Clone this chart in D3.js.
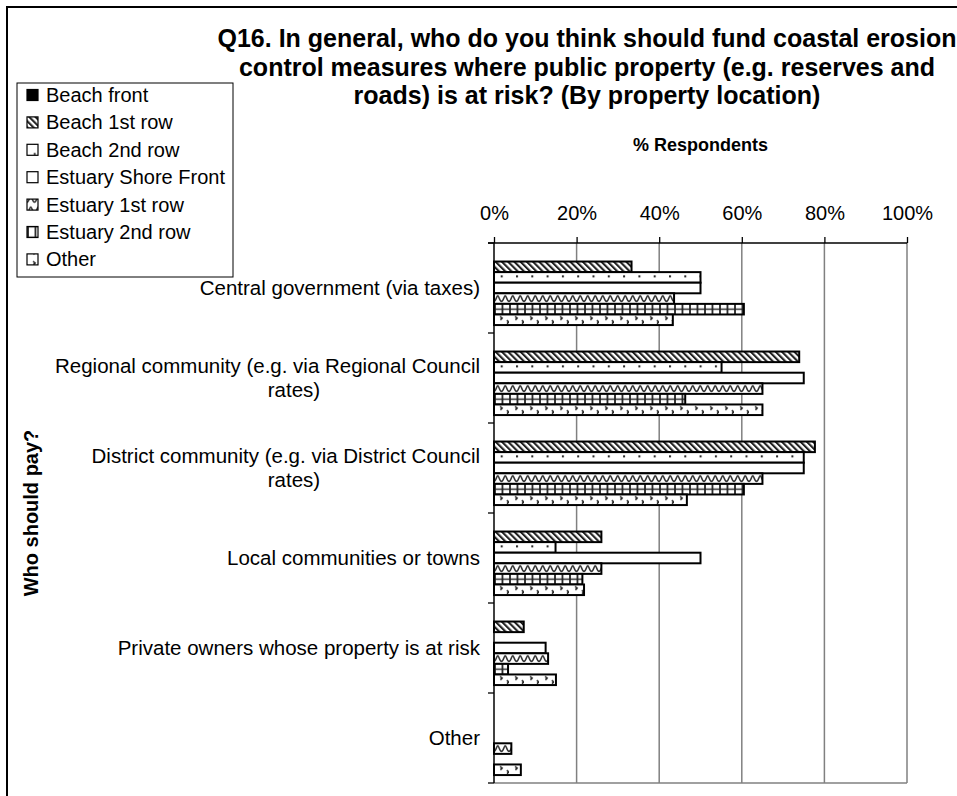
<!DOCTYPE html>
<html><head><meta charset="utf-8">
<script src="https://cdn.jsdelivr.net/npm/d3@7"></script>
<style>
html,body{margin:0;padding:0;background:#fff;}
svg{display:block;font-family:"Liberation Sans",Arial,sans-serif;}
</style></head><body>
<svg id="chart" width="957" height="796"></svg>
<script>
// Who should pay for coastal erosion control, by property location (% respondents)
const categories = [
  "Central government (via taxes)",
  "Regional community (e.g. via Regional Council\nrates)",
  "District community (e.g. via District Council\nrates)",
  "Local communities or towns",
  "Private owners whose property is at risk",
  "Other"
];
const seriesNames = ["Beach front", "Beach 1st row", "Beach 2nd row", "Estuary Shore Front",
  "Estuary 1st row", "Estuary 2nd row", "Other"];
const beachFront        = [0, 0, 0, 0, 0, 0];
const beach1stRow       = [33.3, 73.9, 77.7, 26.0, 7.2, 0];
const beach2ndRow       = [50.0, 55.1, 75.0, 14.9, 0, 0];
const estuaryShoreFront = [50.0, 75.0, 75.0, 50.0, 12.5, 0];
const estuary1stRow     = [43.6, 65.0, 65.0, 26.0, 13.1, 4.2];
const estuary2ndRow     = [60.5, 46.3, 60.5, 21.4, 3.4, 0];
const otherLocation     = [43.3, 65.0, 46.7, 21.8, 15.0, 6.5];
const tickValues = [0, 20, 40, 60, 80, 100];
const titleLines = [
  "Q16. In general, who do you think should fund coastal erosion",
  "control measures where public property (e.g. reserves and",
  "roads) is at risk? (By property location)"
];
const valueAxisTitle = "% Respondents";
const categoryAxisTitle = "Who should pay?";

const seriesValues = [beachFront, beach1stRow, beach2ndRow, estuaryShoreFront,
  estuary1stRow, estuary2ndRow, otherLocation];
const rows = categories.map((c, i) => ({
  category: c,
  values: seriesNames.map((s, j) => ({ series: s, idx: j, value: seriesValues[j][i] }))
}));

const svg = d3.select("#chart");
const plot = { left: 494, right: 907, top: 243, bottom: 783 };

const x = d3.scaleLinear().domain([0, 100]).range([plot.left, plot.right]);
const y = d3.scaleBand().domain(categories).range([plot.top, plot.bottom]);
const ySeries = d3.scaleBand().domain(seriesNames).range([0, y.bandwidth()])
  .paddingInner(0).paddingOuter(0.75);
const bh = ySeries.bandwidth();

// ---- fill patterns ----
const defs = svg.append("defs");
const patId = i => "pat" + i;

// diagonal hatch
defs.append("pattern").attr("id", patId(1)).attr("patternUnits", "userSpaceOnUse")
  .attr("width", 4.4).attr("height", 10).attr("patternTransform", "rotate(-45)")
  .call(p => {
    p.append("rect").attr("width", 4.4).attr("height", 10).attr("fill", "#fff");
    p.append("rect").attr("width", 2.1).attr("height", 10).attr("fill", "#222");
  });
// sparse dots
defs.append("pattern").attr("id", patId(2)).attr("patternUnits", "userSpaceOnUse")
  .attr("width", 15.3).attr("height", bh)
  .call(p => {
    p.append("rect").attr("width", 15.3).attr("height", bh).attr("fill", "#fff");
    p.append("rect").attr("x", 6.7).attr("y", bh * 0.4 - 1).attr("width", 2).attr("height", 2)
      .attr("fill", "#222");
  });
// plain
defs.append("pattern").attr("id", patId(3)).attr("patternUnits", "userSpaceOnUse")
  .attr("width", 10).attr("height", 10)
  .call(p => p.append("rect").attr("width", 10).attr("height", 10).attr("fill", "#fff"));
// wave
defs.append("pattern").attr("id", patId(4)).attr("patternUnits", "userSpaceOnUse")
  .attr("width", 15).attr("height", bh)
  .call(p => {
    p.append("rect").attr("width", 15).attr("height", bh).attr("fill", "#fff");
    p.append("path").attr("d", "M0,8 C2,8 2.5,2.5 3.75,2.5 C5,2.5 5.5,8 7.5,8 C9.5,8 10,2.5 11.25,2.5 C12.5,2.5 13,8 15,8")
      .attr("fill", "none").attr("stroke", "#333").attr("stroke-width", 1.6);
  });
// small grid
defs.append("pattern").attr("id", patId(5)).attr("patternUnits", "userSpaceOnUse")
  .attr("width", 7.5).attr("height", bh)
  .call(p => {
    p.append("rect").attr("width", 7.5).attr("height", bh).attr("fill", "#fff");
    p.append("line").attr("x1", 1).attr("x2", 1).attr("y1", 0).attr("y2", bh)
      .attr("stroke", "#222").attr("stroke-width", 1.8);
    p.append("line").attr("x1", 0).attr("x2", 7.5).attr("y1", bh / 2).attr("y2", bh / 2)
      .attr("stroke", "#222").attr("stroke-width", 1.4);
  });
// chevron marks
defs.append("pattern").attr("id", patId(6)).attr("patternUnits", "userSpaceOnUse")
  .attr("width", 15).attr("height", bh)
  .call(p => {
    p.append("rect").attr("width", 15).attr("height", bh).attr("fill", "#fff");
    p.append("path").attr("d", "M6,2 L8.2,3.6 L6.4,5.4 M12.8,6 L14.8,7.6 L13,9.2")
      .attr("fill", "none").attr("stroke", "#222").attr("stroke-width", 1.5);
  });
const fillFor = i => i === 0 ? "#000" : `url(#${patId(i)})`;

// ---- outer frame ----
svg.append("rect").attr("x", 7).attr("y", 7).attr("width", 1000).attr("height", 1000)
  .attr("fill", "none").attr("stroke", "#000").attr("stroke-width", 2);

// ---- title ----
svg.append("text").attr("text-anchor", "middle")
  .attr("font-size", 25).attr("font-weight", "bold").attr("fill", "#000")
  .selectAll("tspan").data(titleLines).join("tspan")
  .attr("x", 587).attr("y", (d, i) => 47 + i * 28.5).text(d => d);

// ---- gridlines ----
svg.append("g").selectAll("line").data(tickValues.filter(t => t > 0)).join("line")
  .attr("x1", d => x(d)).attr("x2", d => x(d))
  .attr("y1", plot.top).attr("y2", plot.bottom)
  .attr("stroke", "#808080").attr("stroke-width", 1.5);
svg.append("line").attr("x1", plot.left).attr("x2", plot.right)
  .attr("y1", plot.bottom).attr("y2", plot.bottom)
  .attr("stroke", "#808080").attr("stroke-width", 1.5);

// ---- bars ----
const groups = svg.append("g").selectAll("g").data(rows).join("g")
  .attr("transform", d => `translate(0,${y(d.category)})`);
groups.selectAll("g").data(d => d.values.filter(v => v.value > 0)).join("g")
  .attr("transform", d => `translate(${x(0)},${ySeries(d.series)})`)
  .append("rect")
  .attr("width", d => x(d.value) - x(0)).attr("height", bh)
  .attr("fill", d => fillFor(d.idx))
  .attr("stroke", "#000").attr("stroke-width", 2);

// ---- value axis (top) ----
const xAxis = svg.append("g").attr("transform", `translate(0,${plot.top})`)
  .call(d3.axisTop(x).tickValues(tickValues).tickFormat(d => d + "%").tickSize(6).tickSizeOuter(0));
xAxis.select(".domain").attr("stroke", "#000").attr("stroke-width", 1.5)
  .attr("d", `M${plot.left - 6},0H${plot.right}`);
xAxis.selectAll(".tick line").attr("stroke", "#000").attr("stroke-width", 1.3);
xAxis.selectAll(".tick text").attr("y", -23).attr("font-size", 20)
  .attr("font-family", "Liberation Sans, Arial, sans-serif").attr("fill", "#000");

// ---- category axis (left) ----
const cat = svg.append("g");
cat.append("line").attr("x1", plot.left).attr("x2", plot.left)
  .attr("y1", plot.top).attr("y2", plot.bottom).attr("stroke", "#000").attr("stroke-width", 1.5);
const bounds = categories.map(c => y(c)).concat([plot.bottom]);
cat.selectAll("line.tk").data(bounds).join("line").attr("class", "tk")
  .attr("x1", plot.left - 6).attr("x2", plot.left).attr("y1", d => d).attr("y2", d => d)
  .attr("stroke", "#000").attr("stroke-width", 1.3);

const labels = cat.selectAll("text.cat").data(categories).join("text").attr("class", "cat")
  .attr("font-size", 20.5).attr("fill", "#000");
labels.each(function (c) {
  const lines = c.split("\n");
  const cy = y(c) + y.bandwidth() / 2;
  const lh = 24;
  const y0 = cy - (lines.length - 1) * lh / 2 + 7;
  const t = d3.select(this);
  lines.forEach((ln, i) => {
    t.append("tspan")
      .attr("x", i === 0 ? 480 : 294)
      .attr("text-anchor", i === 0 ? "end" : "middle")
      .attr("y", y0 + i * lh).text(ln);
  });
});

// ---- axis titles ----
svg.append("text").attr("x", (plot.left + plot.right) / 2).attr("y", 151)
  .attr("text-anchor", "middle").attr("font-size", 18).attr("font-weight", "bold")
  .text(valueAxisTitle);
svg.append("text").attr("transform", `translate(38,${(plot.top + plot.bottom) / 2}) rotate(-90)`)
  .attr("text-anchor", "middle").attr("font-size", 20).attr("font-weight", "bold")
  .text(categoryAxisTitle);

// ---- legend ----
const legend = svg.append("g");
legend.append("rect").attr("x", 17).attr("y", 83).attr("width", 216).attr("height", 194)
  .attr("fill", "#fff").attr("stroke", "#000").attr("stroke-width", 1);
const items = legend.selectAll("g.item").data(seriesNames).join("g").attr("class", "item")
  .attr("transform", (d, i) => `translate(27,${95 + i * 27.4})`);
items.append("rect").attr("x", 0).attr("y", -5.5).attr("width", 11).attr("height", 11)
  .attr("fill", (d, i) => fillFor(i)).attr("stroke", "#000").attr("stroke-width", 1.2);
items.append("text").attr("x", 19).attr("y", 7).attr("font-size", 20).text(d => d);
</script>
</body></html>
